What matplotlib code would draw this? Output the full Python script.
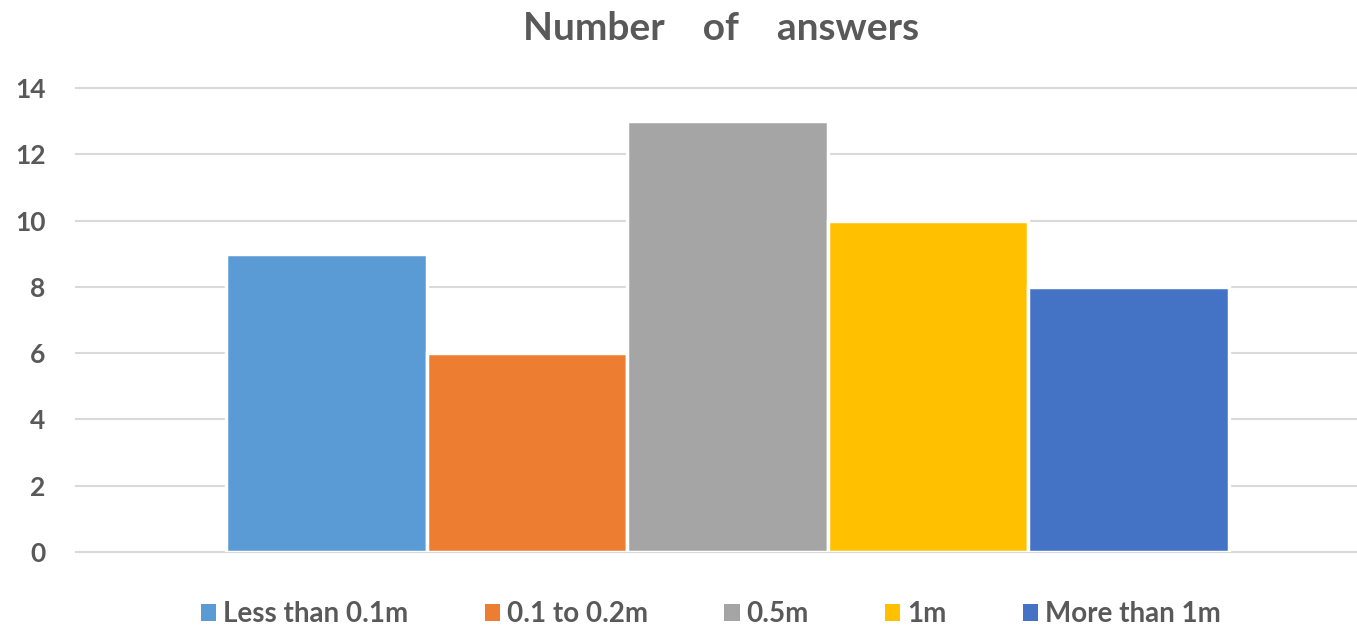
import matplotlib
matplotlib.use("Agg")
import matplotlib.pyplot as plt
from matplotlib.patches import Patch

categories = ["Less than 0.1m", "0.1 to 0.2m", "0.5m", "1m", "More than 1m"]
values = [9, 6, 13, 10, 8]
colors = ["#5B9BD5", "#ED7D31", "#A5A5A5", "#FFC000", "#4472C4"]
yticks = [0, 2, 4, 6, 8, 10, 12, 14]

plt.rcParams["font.family"] = ["Lato", "DejaVu Sans"]
text_color = "#595959"

fig = plt.figure(figsize=(13.57, 6.28), dpi=100)
ax = fig.add_axes([76 / 1357, 76 / 628, (1357 - 76) / 1357, (552 - 88) / 628])

xs = list(range(len(categories)))
ax.bar(xs, values, width=1.0, color=colors, edgecolor="white", linewidth=2.5, zorder=3)

ax.set_xlim(-1.25, 5.14)
ax.set_ylim(0, 14)
ax.set_yticks(yticks)
ax.set_yticklabels([str(t) for t in yticks], fontsize=19, fontweight="bold", color=text_color)
ax.tick_params(axis="y", length=0, pad=22)
ax.set_xticks([])
for s in ax.spines.values():
    s.set_visible(False)
ax.grid(axis="y", color="#D9D9D9", linewidth=1.5, zorder=0)
for gl in ax.get_ygridlines():
    gl.set_clip_on(False)

fig.text(721 / 1357, 1 - 29 / 628, "Number    of    answers", ha="center", va="center",
         fontsize=28, fontweight="bold", color=text_color)

handles = [Patch(facecolor=c, edgecolor="none") for c in colors]
leg = fig.legend(handles, categories, loc="center", bbox_to_anchor=(711 / 1357, 1 - 614 / 628),
                 ncol=5, frameon=False, handlelength=0.55, handleheight=0.55,
                 handletextpad=0.25, columnspacing=2.75, borderpad=0,
                 prop={"size": 20, "weight": "bold"})
for t in leg.get_texts():
    t.set_color(text_color)

fig.savefig("out.png", dpi=100, facecolor="white")
